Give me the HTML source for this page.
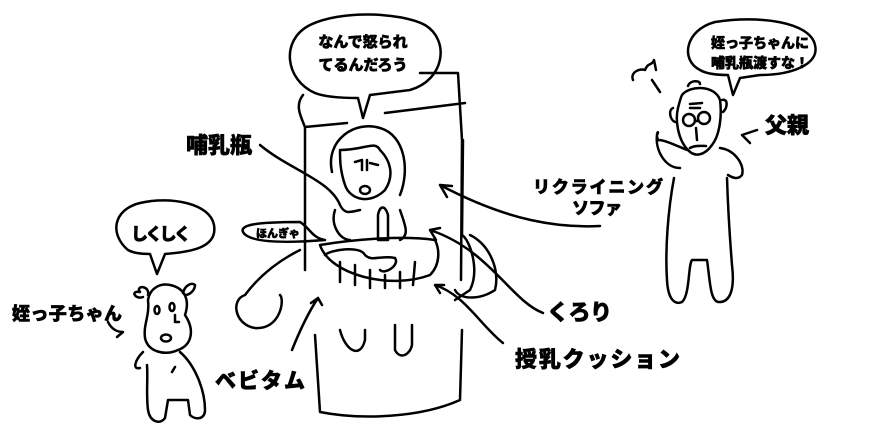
<!DOCTYPE html>
<html><head><meta charset="utf-8"><style>
body{margin:0;background:#fff;}
svg{display:block}
text{font-family:"Liberation Sans","Noto Sans CJK JP",sans-serif;font-weight:900;fill:#000;stroke:#000;stroke-width:0.6}
</style></head><body>
<svg width="890" height="434" viewBox="0 0 890 434" xmlns="http://www.w3.org/2000/svg">
<g fill="none" stroke="#000" stroke-width="2.5" stroke-linecap="round" stroke-linejoin="round">
<path d="M315,93 C285,80 280,40 310,25 C340,10 400,12 425,25 C450,40 445,80 410,90 L370,95 L363,118 L358,98 C340,98 325,97 315,93"/>
<path d="M303,95 C295,105 300,115 305,127 L305,270"/>
<path d="M305,127 L347,123"/>
<path d="M385,113 L465,103"/>
<path d="M420,73 L458,73 L462,140 L461,280"/>
<path d="M463,140 L462,235 C470,240 480,270 470,290 L455,300"/>
<path d="M300,250 C280,260 260,275 245,295 C230,300 235,325 255,328 C280,330 285,300 280,295"/>
<path d="M470,235 C490,245 500,270 495,290 C480,300 460,300 455,290"/>
<path d="M315,335 L320,412 C360,420 420,418 460,400 L462,330"/>
<path d="M332,172 C325,140 355,120 380,128 C405,135 410,170 400,195"/>
<path d="M340,150 C365,150 375,140 380,150 C390,160 395,175 385,190 C370,205 350,200 345,185 C340,170 340,160 340,150"/>
<path d="M355,162 L362,160 M370,163 L378,165 M362,160 L362,170 M367,160 L367,170"/>
<ellipse cx="365" cy="190" rx="5" ry="4"/>
<path d="M335,210 C330,225 340,240 350,240 M400,210 C405,225 410,235 400,240"/>
<path d="M378,215 L378,240 L388,240 L388,215 C385,205 380,205 378,215"/>
<path d="M320,245 C330,275 390,290 430,275 C440,265 440,250 435,240 C400,235 350,240 320,245"/>
<path d="M325,255 C330,250 360,245 365,255 C372,262 380,255 395,258 C400,265 385,275 380,270"/>
<path d="M340,262 L340,282 M355,265 L355,285 M370,270 L370,288 M385,275 L385,288 M400,272 L400,288 M415,262 L413,285"/>
<path d="M340,330 C345,350 360,360 365,340 L365,330 M395,325 L395,350 C400,360 410,355 412,345 L412,325"/>
<path d="M260,145 C290,170 330,180 340,205 C345,215 350,212 360,210"/>
<path d="M600,226 C560,228 510,222 440,185 M440,185 L447,197 M440,185 L452,186"/>
<path d="M543,313 C510,300 490,250 430,230 M430,230 L436,240 M430,230 L440,228"/>
<path d="M503,343 C480,325 465,295 435,285 M435,285 L440,293 M435,285 L444,285"/>
<path d="M292,350 C300,330 310,310 318,298 M318,298 L311,303 M318,298 L322,305"/>
<path d="M243,232 C240,225 255,222 300,222 C310,228 312,238 325,240 C300,242 250,245 243,232"/>
<path d="M128,250 C110,235 112,210 140,203 C170,196 210,203 214,225 C218,248 190,252 165,254 L157,274 L150,254 C140,254 133,253 128,250"/>
<path d="M148,300 C150,288 160,283 170,285 C185,288 190,300 185,315 C195,330 192,345 178,350 C165,356 148,352 145,338 C143,325 150,315 148,300"/>
<path d="M143,297 C135,300 130,290 140,292 C135,285 150,285 148,295 M183,293 C185,285 192,282 195,285 C195,290 190,295 185,295"/>
<ellipse cx="157" cy="310" rx="2.5" ry="4"/><ellipse cx="172" cy="307" rx="2.5" ry="4"/>
<path d="M175,315 L175,322 L179,322"/>
<ellipse cx="166" cy="338" rx="5" ry="3.5"/>
<path d="M143,352 C135,360 132,370 140,368 M180,352 C195,365 205,390 205,410 C205,420 195,420 190,415 L188,400 L168,400 L165,418 C160,425 150,422 148,410 C146,395 148,380 147,365"/>
<path d="M175,367 L172,372"/>
<path d="M108,322 C112,330 118,332 123,332 L117,337"/>
<path d="M700,70 C680,60 685,30 715,22 C760,15 810,22 815,45 C820,65 790,75 760,75 L740,78 L733,95 L728,75 C715,75 705,73 700,70"/>
<path d="M682,95 C690,85 715,85 720,100 C722,115 720,135 712,145 C705,155 695,158 688,150 C678,140 675,120 678,108 C680,100 681,97 682,95"/>
<path d="M688,86 C690,80 700,80 700,84"/>
<path d="M690,104 L702,103 M690,108 L700,108"/>
<circle cx="689" cy="120" r="6"/><circle cx="704" cy="118" r="6"/>
<path d="M695,121 L698,121 M696,128 L697,140 M690,148 C695,145 702,146 706,146"/>
<path d="M673,108 C668,110 670,120 675,122 M722,100 C728,98 728,108 723,112"/>
<path d="M687,150 C675,145 665,140 658,140 C655,132 660,130 657,135 C655,150 665,168 680,168"/>
<path d="M720,148 C735,150 745,165 742,175 C738,180 733,178 728,175"/>
<path d="M674,178 C668,210 665,250 667,280 C668,300 675,305 682,302 C690,295 688,265 692,260 L707,260 C710,280 710,300 718,302 C730,303 735,290 732,265 C730,240 728,210 727,178"/>
<path d="M633,80 C630,72 640,68 645,70 C648,62 652,66 654,60 L656,70 M652,80 L660,92"/>
<path d="M757,130 L742,135 L750,143"/>
</g>
<text x="363" y="47" font-size="15" text-anchor="middle">なんで怒られ</text>
<text x="363" y="70" font-size="15" text-anchor="middle">てるんだろう</text>
<text x="760" y="48" font-size="14" text-anchor="middle">姪っ子ちゃんに</text>
<text x="760" y="68" font-size="14" text-anchor="middle">哺乳瓶渡すな！</text>
<text x="765" y="133" font-size="22">父親</text>
<text x="186" y="153" font-size="22">哺乳瓶</text>
<text x="533" y="193" font-size="17" textLength="130">リクライニング</text>
<text x="572" y="214" font-size="17" textLength="50">ソファ</text>
<text x="256" y="237" font-size="11">ほんぎゃ</text>
<text x="131" y="240" font-size="17" textLength="60">しくしく</text>
<text x="12" y="320" font-size="18" textLength="110">姪っ子ちゃん</text>
<text x="547" y="320" font-size="22" textLength="65">くろり</text>
<text x="515" y="367" font-size="22" textLength="165">授乳クッション</text>
<text x="215" y="388" font-size="21" textLength="90">ベビタム</text>
</svg>
</body></html>
